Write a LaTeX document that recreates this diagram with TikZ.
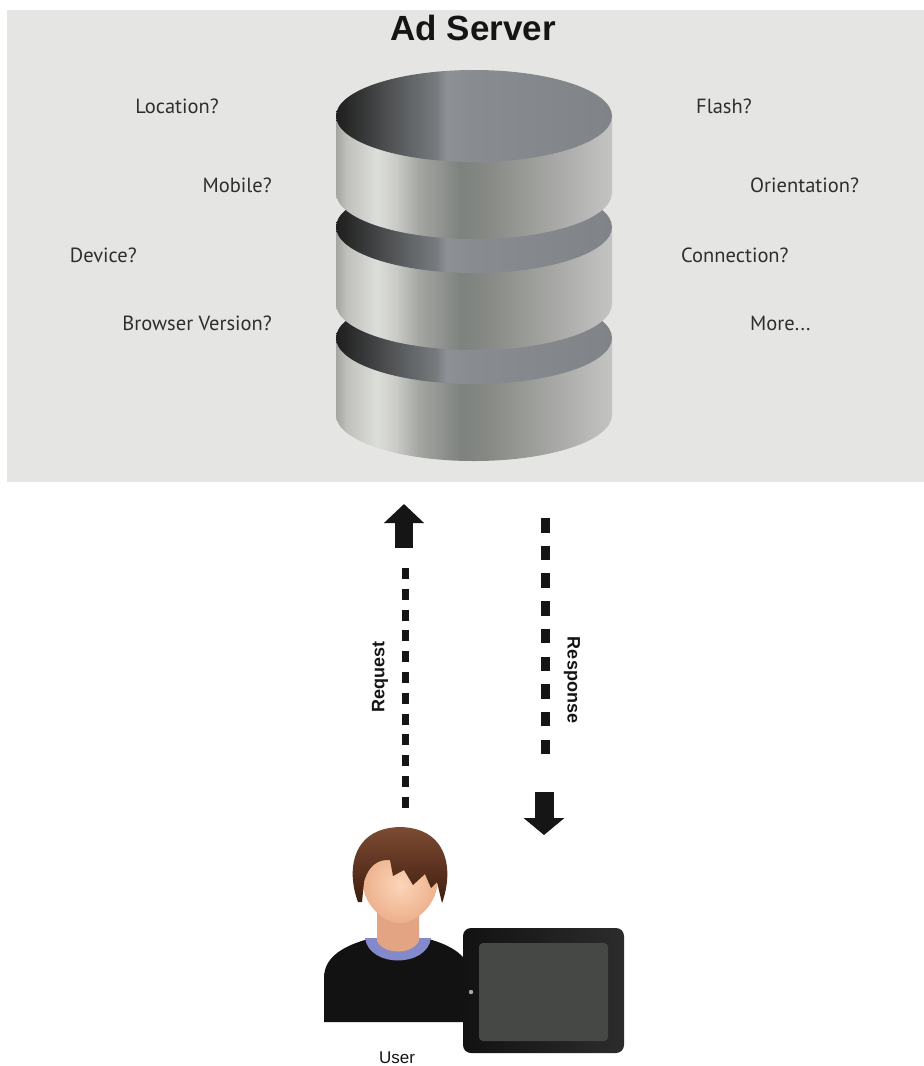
\documentclass[tikz,border=0pt]{standalone}
\usepackage{fontspec}
\setmainfont{PT Sans}
\newfontfamily\helv{Liberation Sans}
\usetikzlibrary{arrows.meta}

% panel and text colours
\definecolor{panel}{HTML}{E5E6E4}
\definecolor{labeltext}{HTML}{2E2E2E}
\definecolor{ink}{HTML}{151515}
% disk side colours (left to right)
\definecolor{sA}{HTML}{A4A5A1}
\definecolor{sB}{HTML}{C0C1BD}
\definecolor{sC}{HTML}{DCDEDA}
\definecolor{sD}{HTML}{C9CAC6}
\definecolor{sE}{HTML}{A4A6A2}
\definecolor{sF}{HTML}{7E827E}
\definecolor{sG}{HTML}{868984}
\definecolor{sH}{HTML}{A2A3A0}
\definecolor{sI}{HTML}{B9B9B7}
\definecolor{sJ}{HTML}{C4C4C2}
% disk top colours
\definecolor{tA}{HTML}{1E1E1E}
\definecolor{tB}{HTML}{3C3D3E}
\definecolor{tC}{HTML}{5D6062}
\definecolor{tD}{HTML}{777A7D}
\definecolor{tE}{HTML}{8D9094}
\definecolor{tF}{HTML}{888B8F}
\definecolor{tG}{HTML}{808488}
% user figure
\definecolor{skinA}{HTML}{FBD5B8}
\definecolor{skinB}{HTML}{EDB08C}
\definecolor{neck}{HTML}{E2A482}
\definecolor{collar}{HTML}{8389C9}
\definecolor{hairA}{HTML}{7C4B32}
\definecolor{hairB}{HTML}{3F1D0F}
\definecolor{shirt}{HTML}{121212}
\definecolor{bezelA}{HTML}{121212}
\definecolor{bezelB}{HTML}{2C2C2C}
\definecolor{screen}{HTML}{464846}

\pgfdeclarehorizontalshading{diskside}{100bp}{%
  color(0bp)=(sA); color(25bp)=(sA); color(27bp)=(sB); color(32.5bp)=(sC);
  color(36bp)=(sD); color(40bp)=(sE); color(47.5bp)=(sF); color(52.5bp)=(sG);
  color(62.5bp)=(sH); color(71bp)=(sI); color(75bp)=(sJ); color(100bp)=(sJ)}
\pgfdeclarehorizontalshading{disktop}{100bp}{%
  color(0bp)=(tA); color(25bp)=(tA); color(31bp)=(tB); color(37.5bp)=(tC);
  color(43bp)=(tD); color(45bp)=(tE); color(50bp)=(tF); color(75bp)=(tG);
  color(100bp)=(tG)}

% one disk of the database stack: #1 top centre y, #2 bottom centre y
\newcommand\dbdisk[2]{%
  \shade[shading=diskside] (336,#1) -- (336,#2)
    arc[start angle=180,end angle=360,x radius=138pt,y radius=46pt]
    -- (612,#1) -- cycle;
  \shade[shading=disktop] (474,#1) ellipse[x radius=138pt,y radius=46pt];
}

\tikzset{
  lbl/.style={inner sep=0pt, text=labeltext, font=\fontsize{20.5}{20.5}\selectfont},
  flowlbl/.style={inner sep=0pt, text=ink, font=\helv\bfseries\fontsize{18}{18}\selectfont},
  flowdash/.style={draw=ink, line cap=butt},
  blockarrow/.style={draw=ink, line cap=butt},
}

\begin{document}
\begin{tikzpicture}[x=1pt,y=-1pt]
\useasboundingbox (0,0) rectangle (924,1066);
\fill[white] (0,0) rectangle (924,1066);

% server panel
\fill[panel] (7,10) rectangle (924,482);
\node[inner sep=0pt, text=ink, font=\helv\bfseries\fontsize{35}{35}\selectfont, anchor=base] (title) at (473,40) {Ad Server};

% database stack, drawn bottom up
\dbdisk{338}{415}
\dbdisk{227}{304}
\dbdisk{116}{193}

% questions asked of the request
\node[lbl, anchor=base east] (loc) at (219,113) {Location?};
\node[lbl, anchor=base east] (mob) at (272,192) {Mobile?};
\node[lbl, anchor=base east] (dev) at (137,262) {Device?};
\node[lbl, anchor=base east] (brw) at (272,330) {Browser Version?};
\node[lbl, anchor=base west] (fla) at (696,113) {Flash?};
\node[lbl, anchor=base west] (ori) at (750,192) {Orientation?};
\node[lbl, anchor=base west] (con) at (681,262) {Connection?};
\node[lbl, anchor=base west] (mor) at (750,330) {More...};

% request / response flow
\coordinate (reqtop) at (405,568);
\coordinate (reqbot) at (405,808);
\coordinate (reqshaft) at (404,548);
\coordinate (reqtip) at (404,504);
\coordinate (restop) at (545,518);
\coordinate (resbot) at (545,755);
\coordinate (resshaft) at (544,792);
\coordinate (restip) at (544,835);

\draw[flowdash, line width=7pt, dash pattern=on 11pt off 9.8pt] (reqtop) -- (reqbot);
\draw[blockarrow, line width=18pt, -{Triangle[width=39pt,length=19pt]}] (reqshaft) -- (reqtip);
\draw[flowdash, line width=9pt, dash pattern=on 14.5pt off 13.2pt] (restop) -- (resbot);
\draw[blockarrow, line width=19pt, -{Triangle[width=40pt,length=17pt]}] (resshaft) -- (restip);

\node[flowlbl, rotate=90] (req) at (380,677) {Request};
\node[flowlbl, rotate=-90] (resp) at (572,680) {Response};

% user: body
\fill[shirt] (324,1022) -- (324,978) .. controls (324,956) and (345,945) .. (372,938)
  -- (425,938) .. controls (452,945) and (470,956) .. (472,978) -- (472,1022) -- cycle;
% collar and neck
\fill[collar] (365,938) .. controls (369,968) and (427,968) .. (431,938) -- cycle;
\fill[neck] (377,912) -- (377,941) .. controls (384,955) and (412,955) .. (419,941) -- (419,912) -- cycle;
% face
\shade[inner color=skinA, outer color=skinB]
  (362,878) .. controls (362,905) and (384,923) .. (400,923)
  .. controls (416,923) and (438,905) .. (438,878)
  .. controls (438,846) and (362,846) .. (362,878) -- cycle;
% hair
\shade[top color=hairA, bottom color=hairB]
  (358,902) .. controls (346,870) and (352,828) .. (400,827)
  .. controls (448,828) and (454,870) .. (442,903)
  -- (437,882) -- (431,888) -- (425,874) -- (413,885) -- (404,870) -- (393,876)
  -- (390,860) .. controls (378,859) and (368,866) .. (364,882) -- (362,902) -- cycle;
\node[inner sep=0pt, text=ink, font=\helv\fontsize{17}{17}\selectfont, anchor=base] (user) at (397,1063) {User};

% tablet
\shade[left color=bezelA, right color=bezelB, rounded corners=8pt] (463,928) rectangle (624,1053);
\fill[screen, rounded corners=4pt] (479,943) rectangle (608,1041);
\fill[gray!70] (471,992) circle[radius=2.2pt];
\end{tikzpicture}
\end{document}
